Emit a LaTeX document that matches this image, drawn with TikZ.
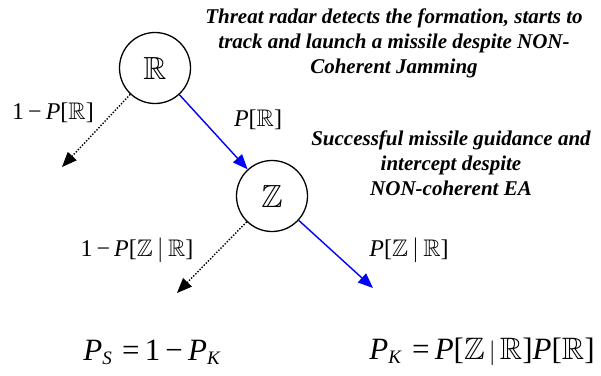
\documentclass[tikz,border=0pt]{standalone}
\usepackage{amssymb}
\usepackage{fontspec}
\setmainfont{Liberation Serif}
\usetikzlibrary{arrows.meta}
\newcommand{\ital}[1]{\textit{#1}}
\newcommand{\sub}[1]{\raisebox{-0.3ex}{\fontsize{19}{20}\selectfont\textit{#1}}}
\begin{document}
\begin{tikzpicture}[x=1pt,y=-1pt,
  state/.style={circle,draw,line width=1.3pt,minimum size=71pt,inner sep=0pt,font=\fontsize{32}{34}\selectfont},
  yes/.style={draw=blue,line width=1.4pt,-{Triangle[length=15pt,width=12pt]}},
  no/.style={line width=1.4pt,dash pattern=on 1.4pt off 1.6pt,-{Triangle[length=15pt,width=12pt]}},
  prob/.style={font=\fontsize{24}{26}\selectfont,inner sep=0pt},
  note/.style={font=\fontsize{21}{25}\selectfont\bfseries\itshape,align=center,inner sep=0pt},
  result/.style={font=\fontsize{31}{34}\selectfont,inner sep=0pt}]
\useasboundingbox (0,0) rectangle (601,375);

% states of the engagement chain
\node[state] (R) at (155,68) {$\mathbb{R}$};
\node[state] (Z) at (272,196) {$\mathbb{Z}$};

% loose ends of the outcome branches
\coordinate (e1) at (62,167);
\coordinate (e2) at (177,293);
\coordinate (e3) at (373,288);

% branches
\draw[yes] (R) -- (Z);
\draw[no] (R) -- (e1);
\draw[no] (Z) -- (e2);
\draw[yes] (Z) -- (e3);

% branch probabilities
\node[prob] (pR0) at (53,113) {1\,−\,\ital{P}[$\mathbb{R}$]};
\node[prob] (pR1) at (258,120) {\ital{P}[$\mathbb{R}$]};
\node[prob] (pZ0) at (137,250) {1\,−\,\ital{P}[$\mathbb{Z}\,|\,\mathbb{R}$]};
\node[prob] (pZ1) at (409,250) {\ital{P}[$\mathbb{Z}\,|\,\mathbb{R}$]};

% event descriptions
\node[note] (t1) at (394,43) {Threat radar detects the formation, starts to\\track and launch a missile despite NON-\\Coherent Jamming};
\node[note] (t2) at (451,163) {Successful missile guidance and\\intercept despite\\NON-coherent EA};

% summary formulas
\node[result] (ps) at (152,352) {\ital{P}\sub{S}\,\,=\,1\,−\,\ital{P}\sub{K}};
\node[result] (pk) at (482,352) {\ital{P}\sub{K}\,\,=\,\ital{P}[$\mathbb{Z}\,|\,\mathbb{R}$]\ital{P}[$\mathbb{R}$]};
\end{tikzpicture}
\end{document}
